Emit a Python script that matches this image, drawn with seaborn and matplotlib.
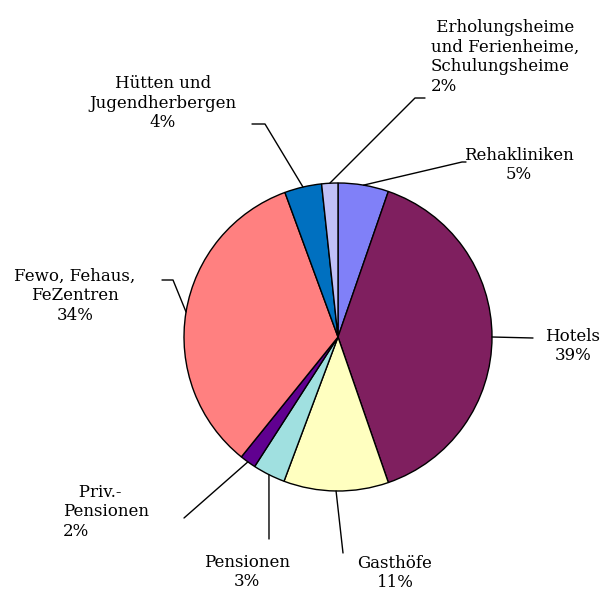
import numpy as np
import matplotlib
matplotlib.use("Agg")
import matplotlib.pyplot as plt
import seaborn as sns

# Slices, clockwise from 12 o'clock
categories = ["Rehakliniken", "Hotels", "Gasthöfe", "Pensionen", "   Priv.-\nPensionen",
              "Fewo, Fehaus,\nFeZentren", "Hütten und\nJugendherbergen",
              " Erholungsheime\nund Ferienheime,\nSchulungsheime"]
shares = [5.3, 39.4, 11.0, 3.4, 1.7, 33.6, 3.9, 1.7]
colors = ["#8080F8", "#7F1F5F", "#FFFFC0", "#A0E0E0", "#600090",
          "#FF8080", "#0070C0", "#C0C0F8"]

# label layout (pixel coords, y from top): text x, text y, alignment, elbow points
label_pos = [
    (519, 165, "center", [(462, 162), (466, 162)]),
    (573, 346, "center", [(533, 338)]),
    (395, 573, "center", [(343, 553)]),
    (247, 572, "center", [(269, 539)]),
    (63, 512, "left", [(184, 518)]),
    (75, 296, "center", [(173, 280), (162, 280)]),
    (163, 103, "center", [(265, 124), (252, 124)]),
    (431, 57, "left", [(415, 98), (425, 98)]),
]

W, H = 601, 595
sns.set_theme(style="white")
plt.rcParams["font.family"] = ["DejaVu Serif"]

fig = plt.figure(figsize=(W / 100, H / 100), dpi=100)
ax = fig.add_axes([0, 0, 1, 1])

cx, cy, r = 338, H - 337, 154
wedges, _ = ax.pie(shares, colors=colors, startangle=90, counterclock=False,
                   center=(cx, cy), radius=r, frame=True,
                   wedgeprops=dict(edgecolor="black", linewidth=1.0))
ax.set_xlim(0, W)
ax.set_ylim(0, H)
ax.set_aspect("equal")
ax.axis("off")

for w, name, val, (tx, ty, ha, elbows) in zip(wedges, categories, shares, label_pos):
    mid = np.deg2rad((w.theta1 + w.theta2) / 2)
    sx, sy = cx + r * np.cos(mid), cy + r * np.sin(mid)
    xs = [sx] + [p[0] for p in elbows]
    ys = [sy] + [H - p[1] for p in elbows]
    ax.plot(xs, ys, color="black", lw=1.0)
    ax.text(tx, H - ty, f"{name}\n{val:.0f}%", ha=ha, va="center",
            multialignment=ha, fontsize=12, linespacing=1.2, color="black")

fig.savefig("out.png", dpi=100)
